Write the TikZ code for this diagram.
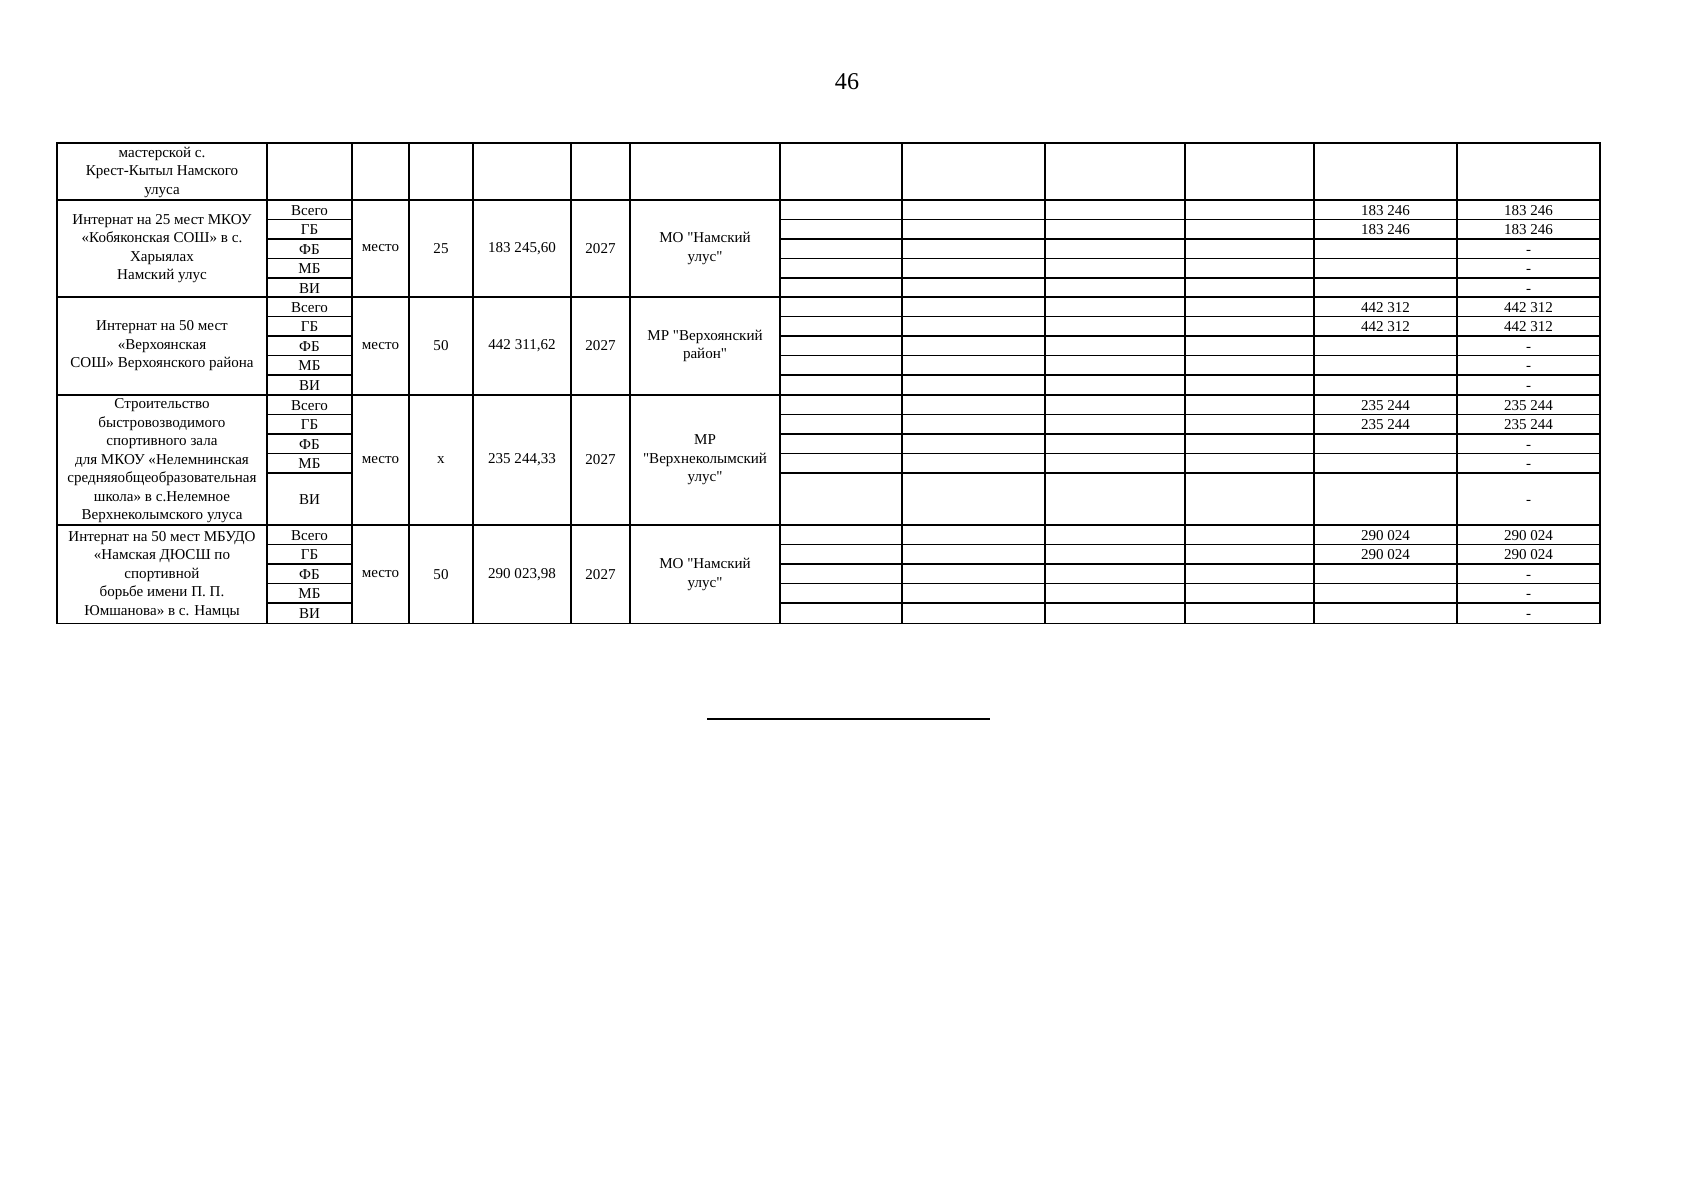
\documentclass[tikz,border=0pt]{standalone}
\usepackage{fontspec}
\setmainfont{Liberation Serif}[Ligatures=TeXOff]
\usetikzlibrary{positioning}

\tikzset{
  cell/.style={font=\fontsize{7.5}{9.2}\selectfont, align=center, inner sep=0pt},
  rowcell/.style={cell, text height=1.5ex, text depth=0.3ex},
  gridline/.style={line width=0.8pt, line cap=rect}
}

\begin{document}
\begin{tikzpicture}[x=0.17501mm,y=-0.17501mm]
  \useasboundingbox (0,0) rectangle (1697,1200);

  \node[font=\fontsize{12}{14}\selectfont] (pagenum) at (847,82) {46};

  % grid of the table
  \foreach \cx in {57,267,352,409,473,571,630,780,902,1045,1185,1314,1457,1600}
    \draw[gridline] (\cx,143) -- (\cx,623.5);
  \foreach \ry in {143,200,297,395,525,623.5}
    \draw[gridline] (57,\ry) -- (1600,\ry);
  \foreach \t in {200,297,395,525}
    \foreach \k in {1,...,4} {
      \draw[gridline] (267,\t+19.5*\k) -- (352,\t+19.5*\k);
      \draw[gridline] (780,\t+19.5*\k) -- (1600,\t+19.5*\k);
    }

  % object names
  \node[cell] (name0) at (162,172) {мастерской с.\\Крест-Кытыл Намского\\улуса};
  \node[cell] (name1) at (162,248.5) {Интернат на 25 мест МКОУ\\«Кобяконская СОШ» в с.\\Харыялах\\Намский улус};
  \node[cell] (name2) at (162,346) {Интернат на 50 мест\\«Верхоянская\\СОШ» Верхоянского района};
  \node[cell] (name3) at (162,461) {Строительство\\быстровозводимого\\спортивного зала\\для МКОУ «Нелемнинская\\средняяобщеобразовательная\\школа» в с.Нелемное\\Верхнеколымского улуса};
  \node[cell] (name4) at (162,574.5) {Интернат на 50 мест МБУДО\\«Намская ДЮСШ по\\спортивной\\борьбе имени П. П.\\Юмшанова» в с. Намцы};

  % blocks
  \foreach \t/\b/\qty/\cost/\own/\tot [count=\i] in {
      200/297/25/{183 245,60}/{МО "Намский\\улус"}/{183 246},
      297/395/50/{442 311,62}/{МР "Верхоянский\\район"}/{442 312},
      395/525/x/{235 244,33}/{МР\\"Верхнеколымский\\улус"}/{235 244},
      525/623.5/50/{290 023,98}/{МО "Намский\\улус"}/{290 024}} {
    \foreach \s [count=\k from 0] in {Всего,ГБ,ФБ,МБ}
      \node[rowcell] (src\i-\k) at (309.5,\t+19.5*\k+9.75) {\s};
    \node[rowcell] (src\i-4) at (309.5,{(\t+78+\b)/2}) {ВИ};
    \node[cell] (unit\i) at (380.5,{(\t+\b)/2}) {место};
    \node[cell] (qty\i) at (441,{(\t+\b)/2}) {\qty};
    \node[cell] (cost\i) at (522,{(\t+\b)/2}) {\cost};
    \node[cell] (year\i) at (600.5,{(\t+\b)/2}) {2027};
    \node[cell] (own\i) at (705,{(\t+\b)/2}) {\own};
    \foreach \k in {0,1} {
      \node[rowcell] (gb\i-\k) at (1385.5,\t+19.5*\k+9.75) {\tot};
      \node[rowcell] (sum\i-\k) at (1528.5,\t+19.5*\k+9.75) {\tot};
    }
    \foreach \k in {2,3}
      \node[rowcell] (sum\i-\k) at (1528.5,\t+19.5*\k+9.75) {-};
    \node[rowcell] (sum\i-4) at (1528.5,{(\t+78+\b)/2}) {-};
  }

  \draw[line width=0.8pt] (707,719) -- (990,719);
\end{tikzpicture}
\end{document}
